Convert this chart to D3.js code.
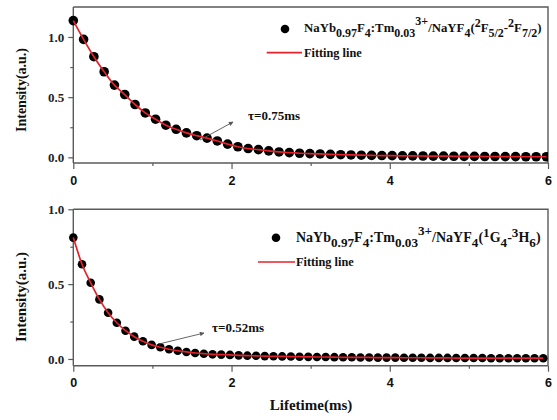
<!DOCTYPE html>
<html><head><meta charset="utf-8">
<script src="https://cdn.jsdelivr.net/npm/d3@7"></script>
<style>body{margin:0;background:#fff}</style>
</head><body>
<svg id="c" width="557" height="420"></svg>
<script>
// ---------- data ----------
const timeTop = [0,0.13,0.26,0.39,0.52,0.65,0.78,0.91,1.04,1.17,1.30,1.43,1.56,1.69,1.82,1.95,2.08,2.21,2.34,2.47,2.60,2.73,2.86,2.99,3.12,3.25,3.38,3.51,3.64,3.77,3.90,4.03,4.16,4.29,4.42,4.55,4.68,4.81,4.94,5.07,5.20,5.33,5.46,5.59,5.72,5.85,5.98];
const intensityTop = [1.136,0.980,0.836,0.711,0.600,0.522,0.439,0.369,0.317,0.267,0.233,0.203,0.180,0.160,0.136,0.110,0.088,0.073,0.064,0.054,0.045,0.039,0.034,0.031,0.028,0.025,0.022,0.020,0.018,0.016,0.015,0.014,0.013,0.012,0.011,0.010,0.010,0.009,0.008,0.008,0.007,0.007,0.006,0.006,0.005,0.005,0.005];
const fitTop = intensityTop;

const timeBot = [0,0.11,0.22,0.33,0.44,0.55,0.66,0.77,0.88,0.99,1.10,1.21,1.32,1.43,1.54,1.65,1.76,1.87,1.98,2.09,2.20,2.31,2.42,2.53,2.64,2.75,2.86,2.97,3.08,3.19,3.30,3.41,3.52,3.63,3.74,3.85,3.96,4.07,4.18,4.29,4.40,4.51,4.62,4.73,4.84,4.95,5.06,5.17,5.28,5.39,5.50,5.61,5.72,5.83,5.94];
const intensityBot = [0.811,0.633,0.509,0.398,0.309,0.242,0.189,0.149,0.118,0.094,0.078,0.065,0.055,0.047,0.040,0.035,0.031,0.029,0.027,0.024,0.022,0.021,0.019,0.018,0.017,0.016,0.015,0.014,0.013,0.013,0.012,0.011,0.011,0.010,0.010,0.009,0.009,0.009,0.008,0.008,0.008,0.007,0.007,0.007,0.006,0.006,0.006,0.006,0.005,0.005,0.005,0.005,0.005,0.005,0.005];
const fitBot = intensityBot;

const xTicks = [0,2,4,6];
const xMinor = [1,3,5];
const yTicks = [0,0.5,1.0];
const yMinor = [0.25,0.75];
const tauTop = "τ=0.75ms";
const tauBot = "τ=0.52ms";

// ---------- drawing ----------
const svg = d3.select("#c");
const SERIF = "'Liberation Serif','Times New Roman',serif";
const SANS = "'Liberation Sans',Arial,sans-serif";
const AX = "#5a5a5a";
const RED = "#e3232b";

svg.append("defs").append("marker").attr("id","arr").attr("viewBox","0 0 10 10")
  .attr("refX",9).attr("refY",5).attr("markerWidth",7).attr("markerHeight",5)
  .attr("orient","auto").append("path").attr("d","M0,0L10,5L0,10z").attr("fill","#555");

function panel(cfg){
  const x = d3.scaleLinear().domain([0,6]).range([73.3,548]);
  const y = d3.scaleLinear().domain(cfg.ydom).range([cfg.bottom,cfg.top]);
  const g = svg.append("g");
  g.append("path").attr("d",`M73.3,${cfg.top}H548V${cfg.bottom}`).attr("fill","none").attr("stroke",AX).attr("stroke-width",1.4);
  const gx = g.append("g").attr("transform",`translate(0,${cfg.bottom})`)
    .call(d3.axisBottom(x).tickValues(xTicks).tickFormat(d3.format("d")).tickSize(6).tickSizeOuter(0));
  g.append("g").attr("transform",`translate(0,${cfg.bottom})`)
    .call(d3.axisBottom(x).tickValues(xMinor).tickFormat("").tickSize(3).tickSizeOuter(0))
    .call(s=>s.select(".domain").remove());
  gx.selectAll("text").attr("font-family",SANS).attr("font-weight","bold").attr("font-size",12.5).attr("fill","#111").attr("dy","1.0em");
  const gy = g.append("g").attr("transform","translate(73.3,0)")
    .call(d3.axisLeft(y).tickValues(yTicks).tickFormat(d3.format(".1f")).tickSize(5).tickSizeOuter(0));
  g.append("g").attr("transform","translate(73.3,0)")
    .call(d3.axisLeft(y).tickValues(yMinor).tickFormat("").tickSize(3).tickSizeOuter(0))
    .call(s=>s.select(".domain").remove());
  gy.selectAll("text").attr("font-family",SERIF).attr("font-weight","bold").attr("font-size",13).attr("fill","#222").attr("x",-9);
  gy.select(".domain").attr("d",`M0,${cfg.top}V${cfg.bottom}`);
  gx.select(".domain").attr("d",`M73.3,0H548`);
  svg.selectAll(".domain").attr("stroke",AX).attr("stroke-width",1.4);
  svg.selectAll(".tick line").attr("stroke",AX).attr("stroke-width",1.2);
  g.append("text").attr("transform",`translate(${cfg.ylabX},${cfg.ylabY}) rotate(-90)`)
    .attr("text-anchor","middle").attr("font-family",SERIF).attr("font-weight","bold")
    .attr("font-size",cfg.ylabSize).attr("fill","#111").text("Intensity(a.u.)");
  const clipId = "clip"+Math.round(cfg.top);
  g.append("clipPath").attr("id",clipId).append("rect").attr("x",60).attr("y",cfg.top).attr("width",488).attr("height",cfg.bottom-cfg.top+10);
  const data = cfg.t.map((t,i)=>({t, v:cfg.v[i]}));
  g.append("g").attr("clip-path",`url(#${clipId})`).selectAll("circle").data(data).join("circle")
    .attr("cx",d=>x(d.t)).attr("cy",d=>y(d.v)).attr("r",cfg.r).attr("fill","#000");
  const line = d3.line().x((d,i)=>x(cfg.t[i])).y(d=>y(d)).curve(d3.curveMonotoneX);
  g.append("path").attr("d",line(cfg.fit)).attr("fill","none").attr("stroke",RED).attr("stroke-width",1.7);
  g.append("line").attr("x1",cfg.arr[0]).attr("y1",cfg.arr[1]).attr("x2",cfg.arr[2]).attr("y2",cfg.arr[3])
    .attr("stroke","#555").attr("stroke-width",0.9).attr("marker-end","url(#arr)");
  g.append("text").attr("x",cfg.tauX).attr("y",cfg.tauY).attr("font-family",SERIF).attr("font-weight","bold")
    .attr("font-size",13).attr("fill","#111").text(cfg.tau);
  const L = cfg.leg;
  g.append("circle").attr("cx",L.dx).attr("cy",L.dy).attr("r",4.3).attr("fill","#000");
  g.append("line").attr("x1",L.lx1).attr("x2",L.lx2).attr("y1",L.ly).attr("y2",L.ly).attr("stroke",RED).attr("stroke-width",1.7);
  const t = g.append("text").attr("x",L.tx).attr("y",L.ty).attr("font-family",SERIF).attr("font-weight","bold").attr("font-size",L.fs).attr("fill","#111");
  let cur = 0;
  L.parts.forEach(([s,lvl])=>{
    const off = lvl==="sub"?5:lvl==="sup"?-7:lvl==="sup2"?-5:0;
    t.append("tspan").attr("dy",off-cur).attr("font-size",lvl?L.fs-0.8:L.fs).text(s);
    cur = off;
  });
  g.append("text").attr("x",L.tx).attr("y",L.fy).attr("font-family",SERIF).attr("font-weight","bold").attr("font-size",12.3).attr("fill","#111").text("Fitting line");
}

const commonParts = [["NaYb",""],["0.97","sub"],["F",""],["4","sub"],[":Tm",""],["0.03","sub"],["3+","sup"],["/NaYF",""],["4","sub"],["(",""]];

panel({top:7, bottom:163, ydom:[-0.047,1.249], t:timeTop, v:intensityTop, fit:fitTop, r:4.8,
  ylabX:26, ylabY:90, ylabSize:14, arr:[200,140,233,122], tauX:248, tauY:120, tau:tauTop,
  leg:{dx:285,dy:29,lx1:266.7,lx2:302,ly:52.7,tx:304,ty:32,fy:57,fs:12.8,
    parts:commonParts.concat([["2","sup2"],["F",""],["5/2","sub"],["-",""],["2","sup2"],["F",""],["7/2","sub"],[")",""]])}});

panel({top:209.3, bottom:365.7, ydom:[-0.045,1.0], t:timeBot, v:intensityBot, fit:fitBot, r:4.3,
  ylabX:26, ylabY:297, ylabSize:15, arr:[159,344,204,333], tauX:212, tauY:332, tau:tauBot,
  leg:{dx:276,dy:237.7,lx1:258,lx2:295,ly:262,tx:296,ty:242,fy:266,fs:14,
    parts:commonParts.concat([["1","sup2"],["G",""],["4","sub"],["-",""],["3","sup2"],["H",""],["6","sub"],[")",""]])}});

svg.append("text").attr("x",311).attr("y",410).attr("text-anchor","middle").attr("font-family",SERIF)
  .attr("font-weight","bold").attr("font-size",15).attr("fill","#111").text("Lifetime(ms)");
</script>
</body></html>
